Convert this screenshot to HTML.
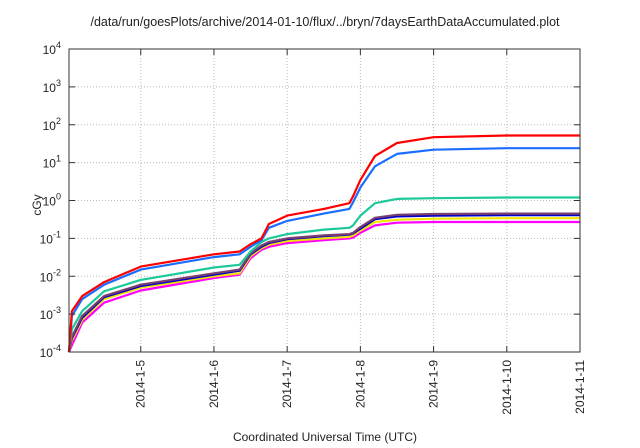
<!DOCTYPE html>
<html><head><meta charset="utf-8"><style>
html,body{margin:0;padding:0;background:#fff;}
svg{display:block;font-family:"Liberation Sans",sans-serif;}
</style></head><body>
<svg id="chart" width="640" height="448" viewBox="0 0 640 448" xmlns="http://www.w3.org/2000/svg">
<text x="325" y="26" font-size="12.5" text-anchor="middle" fill="#222">/data/run/goesPlots/archive/2014-01-10/flux/../bryn/7daysEarthDataAccumulated.plot</text>
<text x="0" y="0" font-size="12" text-anchor="middle" fill="#222" transform="translate(41,205) rotate(-90)">cGy</text>
<text x="325" y="441" font-size="12" text-anchor="middle" fill="#222">Coordinated Universal Time (UTC)</text>
<g id="grid"></g>
<g id="series"></g>
<rect x="69" y="49" width="511" height="303" fill="none" stroke="#333" stroke-width="1"/>
<g id="ticks"></g>
</svg>
<script>
const xTickDays=[5,6,7,8,9,10,11];
const xTickLabels=["2014-1-5","2014-1-6","2014-1-7","2014-1-8","2014-1-9","2014-1-10","2014-1-11"];
const yTickExps=[-4,-3,-2,-1,0,1,2,3,4];
const times=[4.02,4.06,4.2,4.5,5.0,6.0,6.35,6.5,6.65,6.75,7.0,7.5,7.85,7.9,8.0,8.2,8.5,9.0,10.0,11.0];
const seriesRed   =[1e-4,1.2e-3,0.003,0.007,0.018,0.038,0.045,0.07,0.1,0.24,0.4,0.6,0.85,1.3,3.5,15,33,47,52,52];
const seriesBlue  =[1e-4,9e-4,0.0025,0.006,0.015,0.032,0.038,0.06,0.09,0.19,0.29,0.45,0.6,0.9,2.2,8,17,22,24,24];
const seriesTeal  =[1e-4,4e-4,0.0012,0.004,0.008,0.017,0.02,0.045,0.08,0.1,0.13,0.17,0.19,0.22,0.4,0.85,1.1,1.15,1.2,1.2];
const seriesPurple=[1e-4,2.5e-4,0.0009,0.003,0.006,0.012,0.015,0.04,0.065,0.08,0.1,0.12,0.13,0.14,0.2,0.35,0.42,0.44,0.45,0.45];
const seriesNavy  =[1e-4,2.3e-4,0.0008,0.0028,0.0055,0.011,0.014,0.038,0.06,0.075,0.095,0.115,0.125,0.135,0.18,0.32,0.38,0.4,0.41,0.41];
const seriesYellow=[1e-4,2e-4,0.0007,0.0025,0.005,0.01,0.012,0.034,0.055,0.068,0.085,0.1,0.11,0.12,0.16,0.27,0.31,0.33,0.34,0.34];
const seriesMagenta=[1e-4,1.5e-4,0.0006,0.002,0.0042,0.009,0.011,0.03,0.05,0.06,0.075,0.09,0.1,0.105,0.14,0.22,0.26,0.27,0.27,0.27];
const NS="http://www.w3.org/2000/svg";
const L=69,R=580,T=49,B=352,XMIN=4.02,XMAX=11,YMIN=-4,YMAX=4;
function xs(d){return L+(d-XMIN)/(XMAX-XMIN)*(R-L);}
function ys(v){const l=Math.log10(Math.max(v,1e-4));return B-(l-YMIN)/(YMAX-YMIN)*(B-T);}
function mk(tag,attrs,parent){const e=document.createElementNS(NS,tag);for(const k in attrs)e.setAttribute(k,attrs[k]);parent.appendChild(e);return e;}
const grid=document.getElementById('grid'),ticks=document.getElementById('ticks'),sg=document.getElementById('series');
yTickExps.forEach(ex=>{
  const y=ys(Math.pow(10,ex));
  if(ex>-4&&ex<4){const g=mk('line',{x1:L,x2:R,y1:y,y2:y,stroke:'#bbb','stroke-dasharray':'1,2','stroke-width':1},grid);
  
  }
  const t1=mk('line',{x1:L,x2:L+6,y1:y,y2:y,stroke:'#333'},ticks);
  
  
  const t2=mk('line',{x1:R-6,x2:R,y1:y,y2:y,stroke:'#333'},ticks);
  
  
  const tx=mk('text',{x:L-8,y:y+5,'font-size':12,'text-anchor':'end',fill:'#222'},ticks);
  
  
  tx.textContent='10';
  const sp=mk('tspan',{dy:-6,'font-size':9},tx);sp.textContent=String(ex);
});
xTickDays.forEach((d,i)=>{
  const x=xs(d);
  if(d<11){const g=mk('line',{x1:x,x2:x,y1:T,y2:B,stroke:'#bbb','stroke-dasharray':'1,2'},grid);
  
  }
  const t1=mk('line',{x1:x,x2:x,y1:B-6,y2:B,stroke:'#333'},ticks);
  
  
  const t2=mk('line',{x1:x,x2:x,y1:T,y2:T+6,stroke:'#333'},ticks);
  
  
  const tx=mk('text',{x:0,y:0,'font-size':12,'text-anchor':'end',fill:'#222',transform:`translate(${x+4},${B+8}) rotate(-90)`},ticks);
  
  
  tx.textContent=xTickLabels[i];
});
const all=[[seriesMagenta,'#ff00ff','magenta'],[seriesYellow,'#f2e600','yellow'],[seriesNavy,'#0000cc','navy'],[seriesPurple,'#7a3f6e','purple'],[seriesTeal,'#1dc99a','teal'],[seriesBlue,'#1a6eff','blue'],[seriesRed,'#ff0000','red']];
all.forEach(([vals,col,nm])=>{
  const pts=times.map((t,i)=>xs(t).toFixed(1)+','+ys(vals[i]).toFixed(1)).join(' ');
  const p=mk('polyline',{points:pts,fill:'none',stroke:col,'stroke-width':2.2,'stroke-linejoin':'round'},sg);
  
  
});
</script>
</body></html>
